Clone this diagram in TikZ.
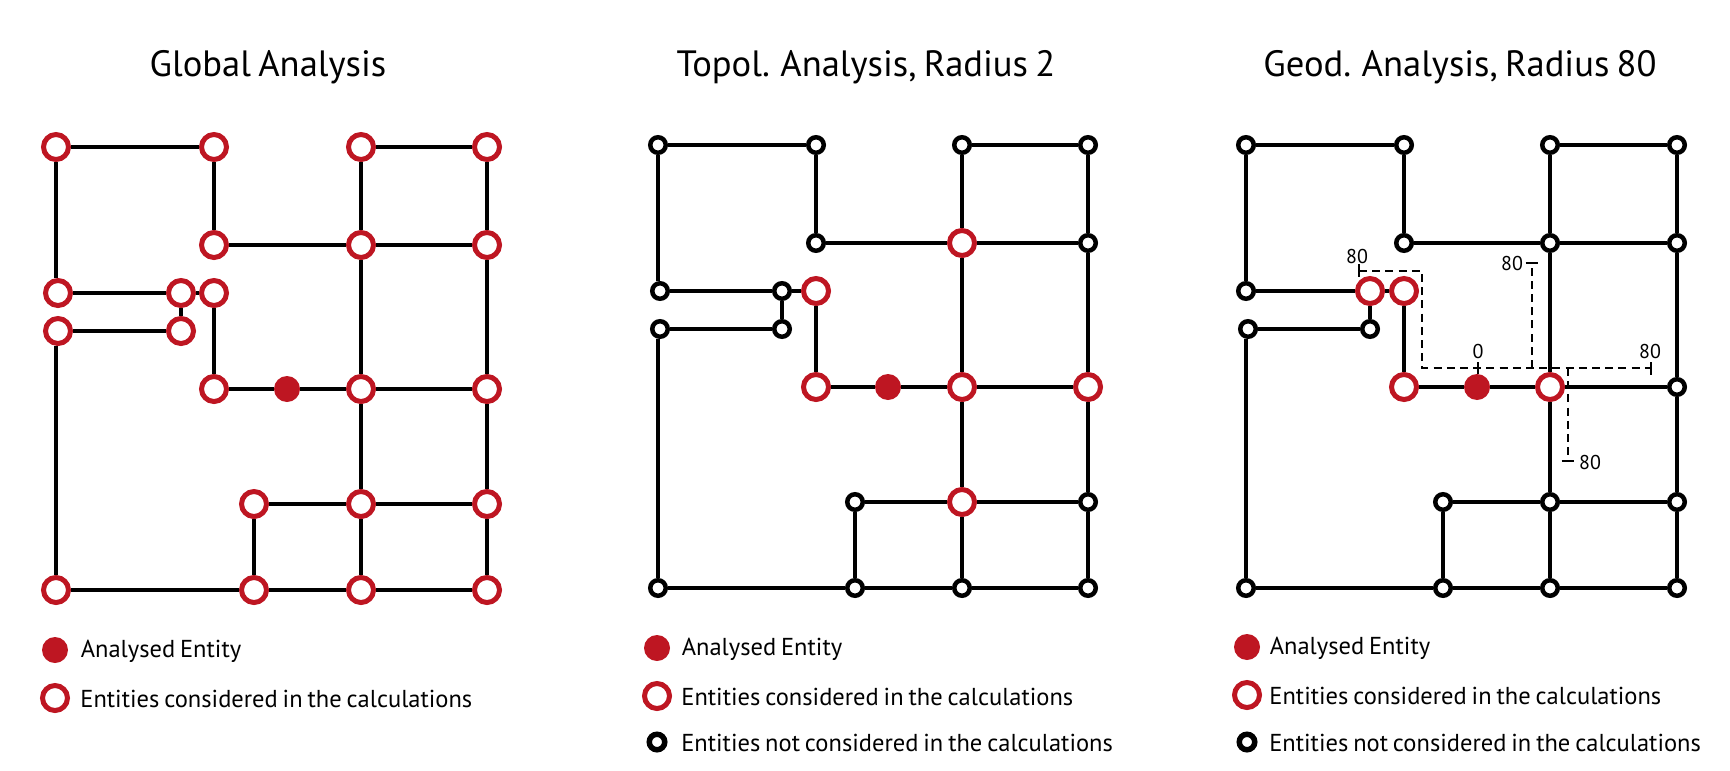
\documentclass[tikz,border=0pt]{standalone}
\usepackage{fontspec}
\setmainfont[WordSpace=0.75]{PT Sans}
\usetikzlibrary{positioning}
\definecolor{entred}{RGB}{190,22,34}

\begin{document}
\begin{tikzpicture}[
  x=0.5pt,y=-0.5pt,
  ring/.style={circle,draw=entred,fill=white,line width=2.5pt,inner sep=0pt,minimum size=12.5pt},
  hub/.style={circle,draw=black,fill=white,line width=2.25pt,inner sep=0pt,minimum size=7.75pt},
  dot/.style={circle,fill=entred,inner sep=0pt,minimum size=13pt},
  link/.style={line width=2.2pt},
  dim/.style={line width=0.7pt,dash pattern=on 4pt off 2.6pt},
  tick/.style={line width=0.85pt},
  title/.style={font=\fontsize{18.3}{20}\selectfont,inner sep=0pt},
  lbl/.style={font=\fontsize{12.25}{14}\selectfont,inner sep=0pt,yshift=-0.6pt},
  num/.style={font=\fontsize{10}{11}\selectfont,inner sep=0pt}
]
  \useasboundingbox (0,0) rectangle (1730,771);

  % global analysis
  \node[title] (ta) at (268,67) {Global Analysis};
  \node[ring] (a1) at (56,147) {};
  \node[ring] (a2) at (214,147) {};
  \node[ring] (a3) at (361,147) {};
  \node[ring] (a4) at (487,147) {};
  \node[ring] (a5) at (214,245) {};
  \node[ring] (a6) at (361,245) {};
  \node[ring] (a7) at (487,245) {};
  \node[ring] (a8) at (58,293) {};
  \node[ring] (a9) at (181,293) {};
  \node[ring] (a10) at (214,293) {};
  \node[ring] (a11) at (58,331) {};
  \node[ring] (a12) at (181,331) {};
  \node[ring] (a13) at (214,389) {};
  \node[dot] (a0) at (287,389) {};
  \node[ring] (a14) at (361,389) {};
  \node[ring] (a15) at (487,389) {};
  \node[ring] (a16) at (254,504) {};
  \node[ring] (a17) at (361,504) {};
  \node[ring] (a18) at (487,504) {};
  \node[ring] (a19) at (56,590) {};
  \node[ring] (a20) at (254,590) {};
  \node[ring] (a21) at (361,590) {};
  \node[ring] (a22) at (487,590) {};
  \draw[link] (a1 |- a8.north) -- (a1) -- (a2) -- (a5) -- (a6) -- (a7);
  \draw[link] (a3) -- (a4) -- (a7) -- (a15) -- (a18) -- (a22);
  \draw[link] (a3) -- (a6) -- (a14) -- (a17) -- (a21);
  \draw[link] (a8) -- (a9) -- (a10) -- (a13) -- (a0) -- (a14) -- (a15);
  \draw[link] (a9) -- (a12) -- (a11);
  \draw[link] (a19 |- a11.south) -- (a19) -- (a20) -- (a21) -- (a22);
  \draw[link] (a20) -- (a16) -- (a17) -- (a18);
  \node[dot] (la1) at (55,650) {};
  \node[ring] (la2) at (55,698) {};
  \node[lbl,right=6pt of la1] (ta1) {Analysed Entity};
  \node[lbl,right=5pt of la2] (ta2) {Entities considered in the calculations};

  % topological analysis
  \node[title] (tb) at (866,67) {Topol. Analysis, Radius 2};
  \node[hub] (b1) at (658,145) {};
  \node[hub] (b2) at (816,145) {};
  \node[hub] (b3) at (962,145) {};
  \node[hub] (b4) at (1088,145) {};
  \node[hub] (b5) at (816,243) {};
  \node[ring] (b6) at (962,243) {};
  \node[hub] (b7) at (1088,243) {};
  \node[hub] (b8) at (660,291) {};
  \node[hub] (b9) at (782,291) {};
  \node[ring] (b10) at (816,291) {};
  \node[hub] (b11) at (660,329) {};
  \node[hub] (b12) at (782,329) {};
  \node[ring] (b13) at (816,387) {};
  \node[dot] (b0) at (888,387) {};
  \node[ring] (b14) at (962,387) {};
  \node[ring] (b15) at (1088,387) {};
  \node[hub] (b16) at (855,502) {};
  \node[ring] (b17) at (962,502) {};
  \node[hub] (b18) at (1088,502) {};
  \node[hub] (b19) at (658,588) {};
  \node[hub] (b20) at (855,588) {};
  \node[hub] (b21) at (962,588) {};
  \node[hub] (b22) at (1088,588) {};
  \draw[link] (b1 |- b8.north) -- (b1) -- (b2) -- (b5) -- (b6) -- (b7);
  \draw[link] (b3) -- (b4) -- (b7) -- (b15) -- (b18) -- (b22);
  \draw[link] (b3) -- (b6) -- (b14) -- (b17) -- (b21);
  \draw[link] (b8) -- (b9) -- (b10) -- (b13) -- (b0) -- (b14) -- (b15);
  \draw[link] (b9) -- (b12) -- (b11);
  \draw[link] (b19 |- b11.south) -- (b19) -- (b20) -- (b21) -- (b22);
  \draw[link] (b20) -- (b16) -- (b17) -- (b18);
  \node[dot] (lb1) at (657,648) {};
  \node[ring] (lb2) at (657,696) {};
  \node[hub,line width=2.75pt] (lb3) at (657,742) {};
  \node[lbl,right=5.5pt of lb1] (tb1) {Analysed Entity};
  \node[lbl,right=4.5pt of lb2] (tb2) {Entities considered in the calculations};
  \node[lbl,right=6.7pt of lb3] (tb3) {Entities not considered in the calculations};

  % geodesic analysis
  \node[title] (tc) at (1460,67) {Geod. Analysis, Radius 80};
  \node[hub] (c1) at (1246,145) {};
  \node[hub] (c2) at (1404,145) {};
  \node[hub] (c3) at (1550,145) {};
  \node[hub] (c4) at (1677,145) {};
  \node[hub] (c5) at (1404,243) {};
  \node[hub] (c6) at (1550,243) {};
  \node[hub] (c7) at (1677,243) {};
  \node[hub] (c8) at (1246,291) {};
  \node[ring] (c9) at (1370,291) {};
  \node[ring] (c10) at (1404,291) {};
  \node[hub] (c11) at (1248,329) {};
  \node[hub] (c12) at (1370,329) {};
  \node[ring] (c13) at (1404,387) {};
  \node[dot] (c0) at (1477,387) {};
  \node[ring] (c14) at (1550,387) {};
  \node[hub] (c15) at (1677,387) {};
  \node[hub] (c16) at (1443,502) {};
  \node[hub] (c17) at (1550,502) {};
  \node[hub] (c18) at (1677,502) {};
  \node[hub] (c19) at (1246,588) {};
  \node[hub] (c20) at (1443,588) {};
  \node[hub] (c21) at (1550,588) {};
  \node[hub] (c22) at (1677,588) {};
  \draw[link] (c1) -- (c8);
  \draw[link] (c1) -- (c2) -- (c5) -- (c6) -- (c7);
  \draw[link] (c3) -- (c4) -- (c7) -- (c15) -- (c18) -- (c22);
  \draw[link] (c3) -- (c6) -- (c14) -- (c17) -- (c21);
  \draw[link] (c8) -- (c9) -- (c10) -- (c13) -- (c0) -- (c14) -- (c15);
  \draw[link] (c9) -- (c12) -- (c11);
  \draw[link] (c19 |- c11.south) -- (c19) -- (c20) -- (c21) -- (c22);
  \draw[link] (c20) -- (c16) -- (c17) -- (c18);
  \node[dot] (lc1) at (1247,647) {};
  \node[ring] (lc2) at (1247,695) {};
  \node[hub,line width=2.75pt] (lc3) at (1247,742) {};
  \node[lbl,right=4.5pt of lc1] (tc1) {Analysed Entity};
  \node[lbl,right=3.5pt of lc2] (tc2) {Entities considered in the calculations};
  \node[lbl,right=5.7pt of lc3] (tc3) {Entities not considered in the calculations};

  % radius marks
  \coordinate (m1) at (1359,271);
  \coordinate (m2) at (1422,271);
  \coordinate (m3) at (1422,368);
  \coordinate (m4) at (1651,368);
  \coordinate (m5) at (1532,368);
  \coordinate (m6) at (1532,263);
  \coordinate (m7) at (1568,368);
  \coordinate (m8) at (1568,461);
  \coordinate (m0) at (1478,368);
  \draw[dim] (m1) -- (m2) -- (m3) -- (m4);
  \draw[dim] (m5) -- (m6);
  \draw[dim] (m7) -- (m8);
  \draw[tick] ([yshift=3.5pt]m1) -- ([yshift=-3pt]m1);
  \draw[tick] ([yshift=3pt]m0) -- ([yshift=-3pt]m0);
  \draw[tick] ([yshift=3pt]m4) -- ([yshift=-3.5pt]m4);
  \draw[tick] ([xshift=-3.2pt]m6) -- ([xshift=3.2pt]m6);
  \draw[tick] ([xshift=-3.2pt]m8) -- ([xshift=3.2pt]m8);
  \node[num] (r1) at (1357,256) {80};
  \node[num] (r2) at (1512,263) {80};
  \node[num] (r3) at (1478,351) {0};
  \node[num] (r4) at (1650,351) {80};
  \node[num] (r5) at (1590,462) {80};
\end{tikzpicture}
\end{document}
